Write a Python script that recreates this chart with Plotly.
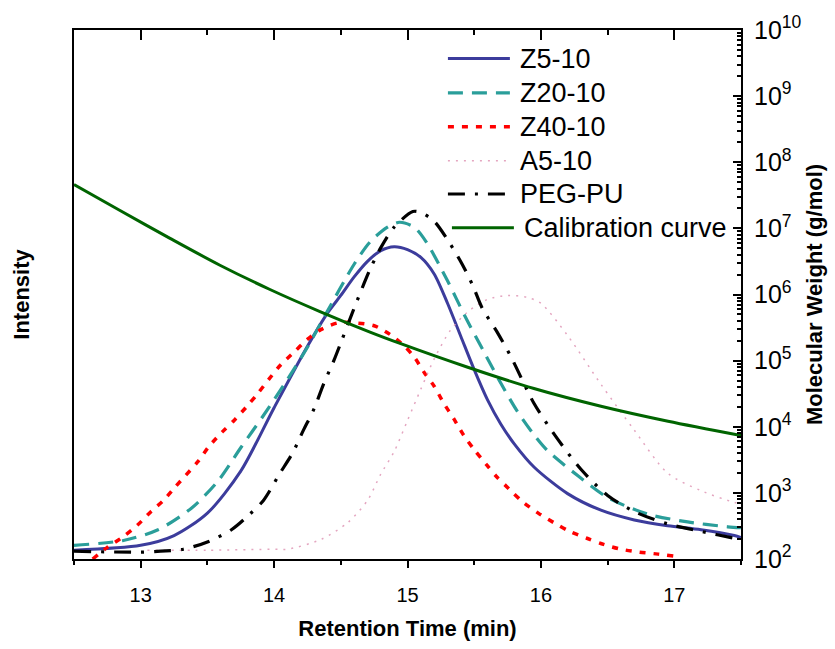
import plotly.graph_objects as go

# Retention time (min) and intensity (a.u.) for each sample
t_z5 = [12.5, 13.0, 13.25, 13.5, 13.75, 14.0, 14.25, 14.4, 14.5, 14.6, 14.7, 14.8, 14.9, 15.0, 15.1, 15.2, 15.3, 15.4, 15.5, 15.6, 15.7, 15.8, 15.95, 16.2, 16.45, 16.7, 16.95, 17.2, 17.45, 17.5]
i_z5 = [9, 14, 24, 47, 90, 155, 218, 252, 270, 289, 305, 316, 320, 317, 309, 292, 262, 228, 194, 163, 138, 118, 94, 67, 50, 40, 34, 30, 24, 22]

t_z20 = [12.5, 12.87, 13.13, 13.38, 13.58, 13.75, 13.92, 14.1, 14.25, 14.4, 14.6, 14.72, 14.85, 14.94, 15.05, 15.14, 15.3, 15.43, 15.57, 15.7, 15.82, 15.95, 16.05, 16.28, 16.5, 16.8, 17.1, 17.4, 17.5]
i_z20 = [14, 19, 30, 52, 80, 114, 147, 184, 217, 254, 302, 325, 340, 345, 340, 325, 285, 249, 213, 180, 152, 127, 111, 85, 63, 46, 38, 33, 32]

t_z40 = [12.64, 12.75, 12.86, 12.97, 13.08, 13.17, 13.26, 13.43, 13.51, 13.61, 13.7, 13.8, 13.88, 13.96, 14.05, 14.15, 14.24, 14.35, 14.48, 14.6, 14.75, 14.87, 14.97, 15.05, 15.13, 15.2, 15.27, 15.35, 15.42, 15.5, 15.59, 15.67, 15.76, 15.86, 15.98, 16.1, 16.22, 16.35, 16.47, 16.6, 16.74, 16.88, 17.0]
i_z40 = [0, 12, 22, 34, 49, 60, 74, 100, 115, 130, 142, 157, 170, 184, 199, 212, 224, 235, 242, 242, 239, 230, 219, 207, 190, 177, 160, 143, 127, 112, 97, 84, 72, 59, 47, 37, 28, 21, 15, 10, 7, 5, 3]

t_a5 = [13.05, 13.5, 14.0, 14.1, 14.35, 14.55, 14.7, 14.8, 14.9, 15.0, 15.1, 15.2, 15.32, 15.45, 15.6, 15.75, 15.9, 16.0, 16.2, 16.45, 16.7, 16.95, 17.2, 17.45, 17.5]
i_a5 = [9, 9, 10, 10, 20, 37, 60, 87, 110, 142, 174, 205, 234, 253, 266, 270, 268, 262, 229, 179, 132, 88, 70, 58, 57]

t_peg = [12.5, 13.0, 13.15, 13.32, 13.51, 13.68, 13.81, 13.92, 14.04, 14.14, 14.22, 14.3, 14.37, 14.45, 14.51, 14.6, 14.72, 14.8, 14.9, 15.04, 15.1, 15.2, 15.31, 15.41, 15.49, 15.56, 15.67, 15.78, 15.95, 16.13, 16.3, 16.5, 16.71, 16.95, 17.21, 17.46, 17.5]
i_peg = [8, 7, 8, 10, 18, 30, 45, 60, 87, 109, 132, 154, 179, 204, 225, 257, 297, 319, 340, 356, 355, 346, 325, 302, 280, 257, 233, 206, 159, 122, 92, 65, 48, 36, 28, 21, 20]

# Calibration curve: molecular weight (g/mol)
t_cal = [12.5, 12.845, 13.22, 13.594, 13.969, 14.344, 14.719, 14.944, 15.446, 15.948, 16.45, 16.953, 17.5]
mw_cal = [4.6e7, 1.86e7, 7.06e6, 2.77e6, 1.19e6, 5.52e5, 2.70e5, 1.82e5, 8.0e4, 3.78e4, 2.04e4, 1.21e4, 7.36e3]

names = ["Z5-10", "Z20-10", "Z40-10", "A5-10", "PEG-PU", "Calibration curve"]
styles = [
    dict(color="#3C3C9C", width=3),
    dict(color="#2A9E9A", width=3.2, dash="15px,9px"),
    dict(color="#FF0000", width=3.5, dash="6px,8px"),
    dict(color="#E4A6C0", width=1.5, dash="2px,6px"),
    dict(color="black", width=3.2, dash="17px,10px,3px,10px"),
    dict(color="#006400", width=3),
]
series = [(t_z5, i_z5, "y"), (t_z20, i_z20, "y"), (t_z40, i_z40, "y"),
          (t_a5, i_a5, "y"), (t_peg, i_peg, "y"), (t_cal, mw_cal, "y2")]

fig = go.Figure()
for (xs, ys, ax), name, st in zip(series, names, styles):
    fig.add_trace(go.Scatter(x=xs, y=ys, name=name, mode="lines", yaxis=ax, showlegend=False,
                             line=dict(shape="spline", smoothing=0.8, **st)))
# helper (empty) trace so the mirrored top axis is drawn
fig.add_trace(go.Scatter(x=[], y=[], xaxis="x2", showlegend=False, hoverinfo="skip"))

# Legend drawn as line samples + text inside the plot area (paper fractions of the plot domain)
leg_rows = [0.946, 0.881, 0.817, 0.753, 0.690, 0.626]
for k, (name, st) in enumerate(zip(names, styles)):
    x0 = 0.5606 if k < 5 else 0.5666
    x1 = 0.6535 if k < 5 else 0.6595
    xt = 0.6655 if k < 5 else 0.6715
    fig.add_shape(type="line", xref="paper", yref="paper", x0=x0, x1=x1,
                  y0=leg_rows[k], y1=leg_rows[k], line=st)
    fig.add_annotation(xref="paper", yref="paper", x=xt, y=leg_rows[k], text=name,
                       showarrow=False, xanchor="left", yanchor="middle",
                       font=dict(size=27, color="black"))

fig.update_layout(
    width=835, height=649,
    margin=dict(l=74, r=94, t=25, b=82),
    paper_bgcolor="white", plot_bgcolor="white",
    font=dict(family="Arial, Liberation Sans, sans-serif", color="black", size=20),
    showlegend=False,
    xaxis=dict(range=[12.5, 17.5], dtick=1, ticks="outside", ticklen=7, tickwidth=2, tickcolor="black",
               showline=True, linewidth=2, linecolor="black", showgrid=False, zeroline=False,
               minor=dict(dtick=0.5, ticks="outside", ticklen=4, tickwidth=2, tickcolor="black", showgrid=False),
               title=dict(text="<b>Retention Time (min)</b>", font=dict(size=22), standoff=16),
               ticklabelstandoff=10),
    xaxis2=dict(overlaying="x", side="top", anchor="y", range=[12.5, 17.5], dtick=1, ticks="inside", ticklen=10,
                tickwidth=2, tickcolor="black", showticklabels=False, showline=True, linewidth=2,
                linecolor="black", showgrid=False, zeroline=False,
                minor=dict(dtick=0.5, ticks="inside", ticklen=5, tickwidth=2, tickcolor="black", showgrid=False)),
    yaxis=dict(range=[0, 542], showline=True, linewidth=2, linecolor="black", showticklabels=False,
               ticks="", showgrid=False, zeroline=False,
               title=dict(text="<b>Intensity</b>", font=dict(size=22), standoff=36)),
    yaxis2=dict(type="log", range=[2, 10], overlaying="y", side="right", anchor="x", dtick=1,
                exponentformat="power", ticks="inside", ticklen=8, tickwidth=2, tickcolor="black",
                showline=True, linewidth=2, linecolor="black", showgrid=False, zeroline=False,
                minor=dict(ticks="inside", ticklen=4, tickwidth=1.5, tickcolor="black", dtick="D1", showgrid=False),
                title=dict(text="<b>Molecular Weight (g/mol)</b>", font=dict(size=22), standoff=6),
                ticklabelstandoff=7),
)

fig.write_html("out.html")
